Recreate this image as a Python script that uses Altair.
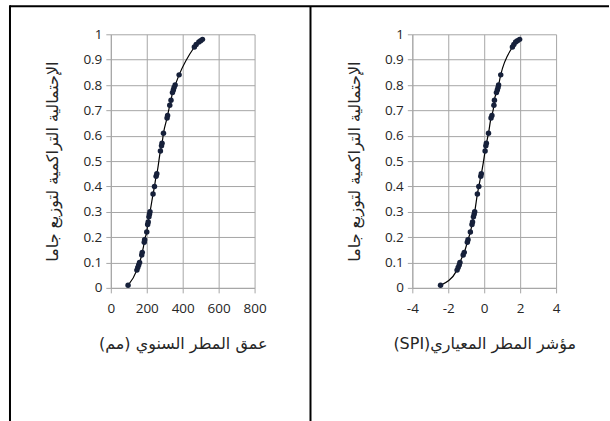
import altair as alt
import pandas as pd

# Cumulative gamma probability for each year, with annual rainfall depth (mm)
# and the matching standardised precipitation index (SPI)
prob = [0.01, 0.07, 0.08, 0.09, 0.10, 0.13, 0.14, 0.18, 0.19, 0.22, 0.25, 0.26,
        0.28, 0.29, 0.30, 0.37, 0.40, 0.44, 0.45, 0.54, 0.56, 0.57, 0.61, 0.67,
        0.68, 0.72, 0.74, 0.77, 0.78, 0.79, 0.80, 0.84, 0.95, 0.96, 0.97, 0.975, 0.98]
rain = [96, 145, 150, 155, 160, 172, 175, 186, 188, 200, 205, 208,
        212, 215, 218, 235, 243, 252, 256, 276, 282, 285, 293, 313,
        316, 328, 335, 343, 348, 352, 358, 380, 465, 475, 490, 500, 510]
spi = [-2.43, -1.51, -1.45, -1.39, -1.35, -1.17, -1.11, -0.94, -0.90, -0.77, -0.68, -0.65,
       -0.60, -0.56, -0.53, -0.38, -0.30, -0.19, -0.16, 0.05, 0.09, 0.12, 0.24, 0.38,
       0.43, 0.54, 0.57, 0.68, 0.73, 0.77, 0.80, 0.92, 1.57, 1.65, 1.75, 1.85, 1.97]

y_title = "الإحتمالية التراكمية لتوزيع جاما"
x_title_rain = "\u202Bعمق المطر السنوي (مم)\u202C"
x_title_spi = "\u202Bمؤشر المطر المعياري(SPI)\u202C"

df = pd.DataFrame({"prob": prob, "rain": rain, "spi": spi})

W, H = 144, 254
GRID = "#a6a6a6"
TXT = "#262626"
LABEL_FONT = "Open Sans"
AR_FONT = "DejaVu Sans"


def y_axis():
    return alt.Axis(
        values=[i / 10 for i in range(11)], format=".1~f",
        title=y_title, titleFont=AR_FONT, titleFontSize=16, titleFontWeight="normal",
        titleColor=TXT, titleAngle=-90, titleBaseline="middle", titleAlign="center",
        titleX=-58, titleY=H / 2,
        labelFont=LABEL_FONT, labelFontSize=13.5, labelColor=TXT, labelPadding=4,
        labelOverlap=False, labelBound=False,
        tickSize=5, tickColor=GRID, domainColor=GRID, gridColor=GRID,
    )


def x_axis(title, values, **kw):
    return alt.Axis(
        values=values, title=title, titleFont=AR_FONT, titleFontSize=16,
        titleFontWeight="normal", titleColor=TXT, titleBaseline="middle",
        titleAlign="center", titleX=W / 2, titleY=56,
        labelFont=LABEL_FONT, labelFontSize=13.5, labelColor=TXT, labelPadding=9,
        labelOverlap=False, labelBound=False, labelFlush=False,
        tickSize=5, tickColor=GRID, domainColor=GRID, gridColor=GRID, **kw,
    )


def panel(field, domain, axis):
    base = alt.Chart(df).encode(
        x=alt.X(f"{field}:Q", scale=alt.Scale(domain=domain, nice=False), axis=axis),
        y=alt.Y("prob:Q", scale=alt.Scale(domain=[0, 1], nice=False), axis=y_axis()),
    )
    line = base.mark_line(interpolate="monotone", color="black", strokeWidth=1.2)
    pts = base.mark_circle(size=30, color="#16203a", opacity=1)
    return line + pts


left = panel("rain", [0, 800], x_axis(x_title_rain, [0, 200, 400, 600, 800], format="d"))
right = panel("spi", [-4, 4], x_axis(x_title_spi, [-4, -2, 0, 2, 4], labelExpr="'' + datum.value"))

# Page frame: top edge, outer left edge and the divider between the two panels
one = alt.Data(values=[{}])
frame_top = alt.Chart(one).mark_rule(color="black", strokeWidth=2).encode(
    x=alt.value(-101), x2=alt.value(499), y=alt.value(-28))
frame_left = alt.Chart(one).mark_rule(color="black", strokeWidth=2).encode(
    x=alt.value(-101), y=alt.value(-29), y2=alt.value(388))
frame_mid = alt.Chart(one).mark_rule(color="black", strokeWidth=2).encode(
    x=alt.value(200), y=alt.value(-28), y2=alt.value(388))

left = (left + frame_top + frame_left + frame_mid).properties(width=W, height=H)
right = right.properties(width=W, height=H)

chart = alt.hconcat(left, right, spacing=158, bounds="flush").properties(
    padding={"left": 9, "top": 4, "right": 0, "bottom": 0},
    background="white",
).configure_view(stroke=None)

chart.save("out.html", embed_options={"renderer": "svg", "actions": False})
